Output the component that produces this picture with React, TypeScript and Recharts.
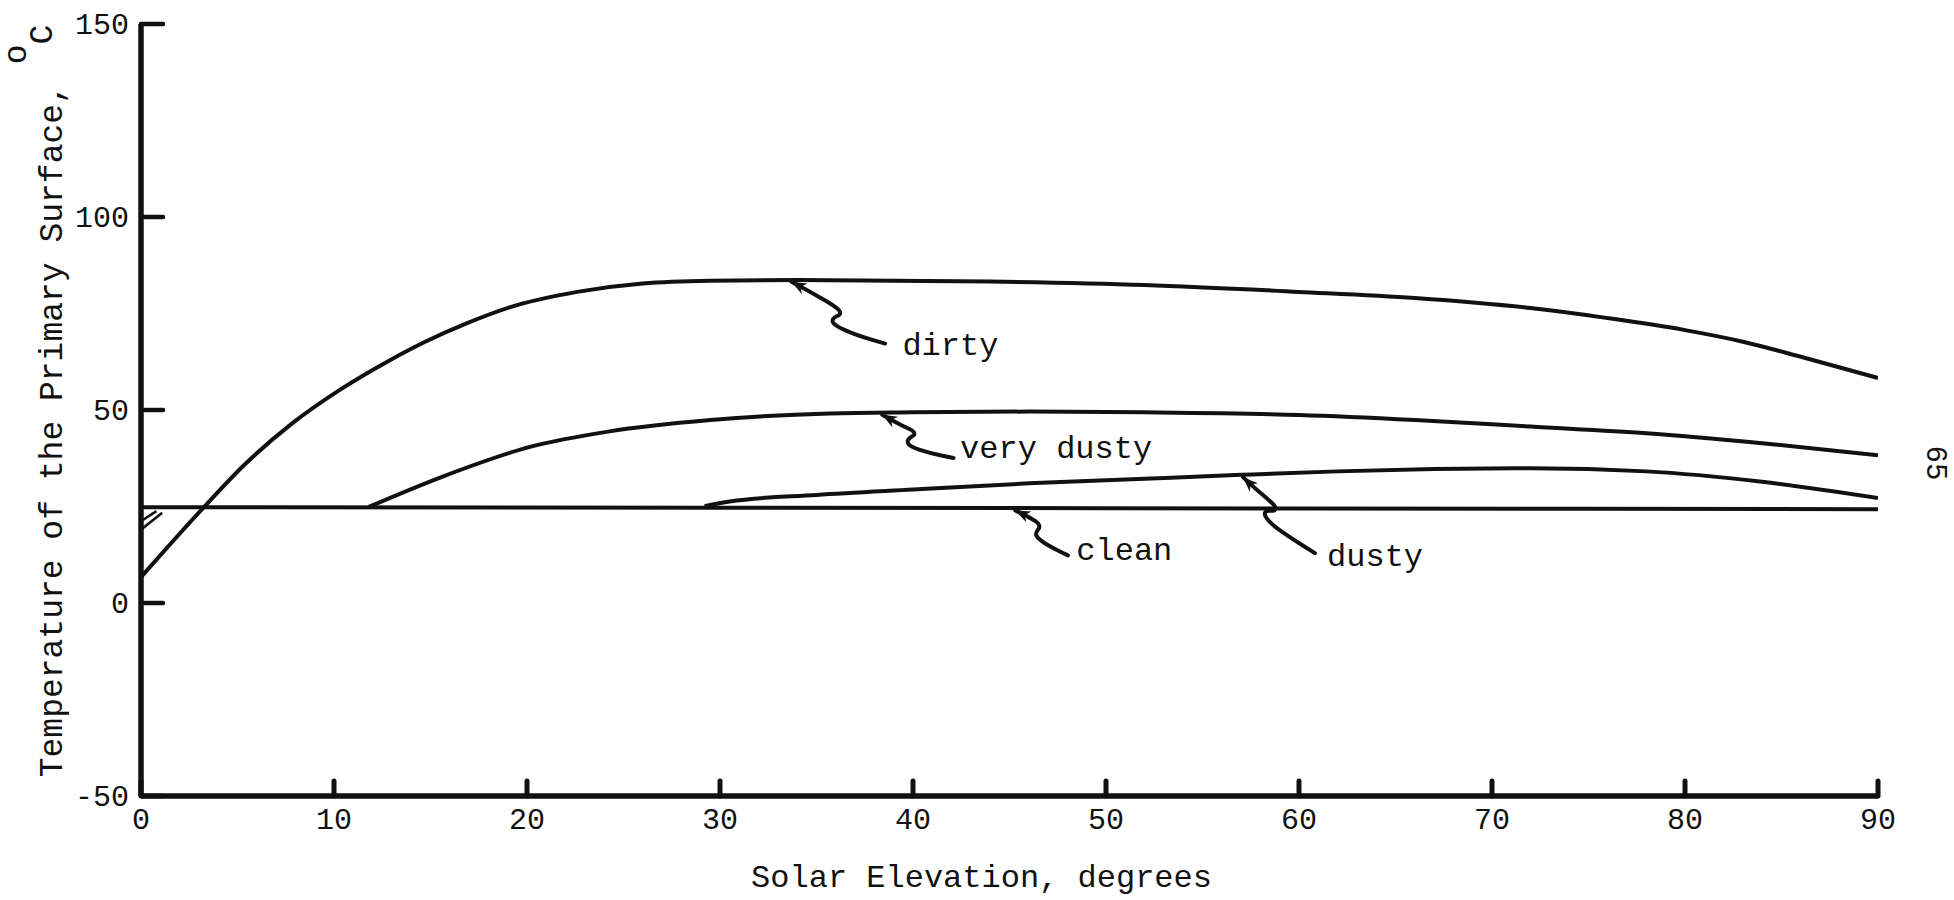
import { LineChart, Line, XAxis, YAxis, ReferenceDot } from "recharts"

const FONT = '"Courier New", "Liberation Mono", monospace'
const INK = "#111"

const xTicks = [0, 10, 20, 30, 40, 50, 60, 70, 80, 90]
const yTicks = [-50, 0, 50, 100, 150]

// Solar elevation (deg) -> temperature of the primary surface (deg C)
const cleanX = [0, 30, 60, 90]
const cleanY = [24.8, 24.7, 24.5, 24.3]

const dirtyX = [0, 3.2, 5.4, 7.8, 10.3, 12.9, 14.7, 16.8, 19.1, 22.6, 26, 29.5, 34, 44, 52, 60, 66, 72, 76, 80, 83, 86, 90]
const dirtyY = [6.7, 24.5, 36.0, 46.4, 55.2, 62.9, 67.6, 72.3, 76.6, 80.6, 82.8, 83.5, 83.7, 83.3, 82.4, 80.6, 79, 76.4, 73.8, 70.7, 67.7, 63.8, 58.3]

const veryDustyX = [11.8, 15.6, 20.2, 24.2, 29.5, 35.7, 40, 46, 52, 60, 66, 72, 78, 84, 90]
const veryDustyY = [24.9, 32.7, 40.5, 44.4, 47.4, 49.1, 49.4, 49.6, 49.4, 48.7, 47.4, 45.7, 44, 41.4, 38.3]

const dustyX = [29.2, 30.5, 35, 40, 46, 52, 57, 62, 67, 72, 78, 84, 90]
const dustyY = [25.1, 26.3, 28, 29.4, 31, 32.2, 33.2, 34.1, 34.7, 34.9, 34.1, 31.4, 27.2]

// little hatch strokes near the origin
const hatchAX = [0, 1.1]
const hatchAY = [19, 23.4]
const hatchBX = [0, 0.8]
const hatchBY = [21.2, 23.8]

const toPoints = (xs: number[], ys: number[]) => xs.map((x, i) => ({ x, y: ys[i] }))

const series = [
  { key: "clean", data: toPoints(cleanX, cleanY), width: 4, type: "monotone" },
  { key: "dirty", data: toPoints(dirtyX, dirtyY), width: 4, type: "monotone" },
  { key: "veryDusty", data: toPoints(veryDustyX, veryDustyY), width: 4, type: "monotone" },
  { key: "dusty", data: toPoints(dustyX, dustyY), width: 4, type: "monotone" },
  { key: "hatchA", data: toPoints(hatchAX, hatchAY), width: 2.5, type: "linear" },
  { key: "hatchB", data: toPoints(hatchBX, hatchBY), width: 2.5, type: "linear" },
]

// where each label's arrow touches its curve
const noteLabels = ["dirty", "very dusty", "clean", "dusty"]
const noteX = [33.7, 38.4, 45.3, 57.1]
const noteY = [83.2, 48.8, 24.0, 32.6]

// squiggle shapes in px, relative to the arrow tip (drawing style only)
const squiggles: Record<string, { path: number[][]; text: number[] }> = {
  dirty: { path: [[0, 0], [15.6, 8.3], [42.4, 23.3], [51.3, 31.7], [40.2, 36.7], [42.4, 43.3], [64.7, 53.3], [93.8, 61.7]], text: [111, 65] },
  "very dusty": { path: [[0, 0], [17.9, 10], [35.7, 18.3], [24.6, 25], [26.8, 31.7], [46.9, 38.3], [71.4, 43.3]], text: [78, 35] },
  clean: { path: [[0, 0], [14, 6.7], [26.3, 15], [19.3, 23.3], [24.6, 30], [38.6, 38.3], [52.6, 45]], text: [61, 41] },
  dusty: { path: [[0, 0], [10.5, 10], [24.6, 21.7], [33.3, 30], [31.6, 34], [22.8, 33.3], [21, 38.3], [29.8, 48.3], [49.1, 61.7], [71.9, 76]], text: [84, 80] },
}

function Note({ cx = 0, cy = 0, label }: { cx?: number; cy?: number; label: string }) {
  const s = squiggles[label]
  const pts = s.path.map(([dx, dy]) => [cx + dx, cy + dy])
  let d = `M${pts[0][0]},${pts[0][1]}`
  for (let i = 1; i < pts.length - 1; i++) {
    const mx = (pts[i][0] + pts[i + 1][0]) / 2
    const my = (pts[i][1] + pts[i + 1][1]) / 2
    d += ` Q${pts[i][0]},${pts[i][1]} ${mx},${my}`
  }
  const last = pts[pts.length - 1]
  d += ` L${last[0]},${last[1]}`
  const a = Math.atan2(pts[1][1] - cy, pts[1][0] - cx)
  const ux = Math.cos(a), uy = Math.sin(a)
  const L = 15, W = 6
  const bx = cx + ux * L, by = cy + uy * L
  const head = `${cx},${cy} ${bx - uy * W},${by + ux * W} ${cx + ux * L * 0.7},${cy + uy * L * 0.7} ${bx + uy * W},${by - ux * W}`
  return (
    <g>
      <path d={d} fill="none" stroke={INK} strokeWidth={4} strokeLinecap="round" strokeLinejoin="round" />
      <polygon points={head} fill={INK} />
      <text x={cx + s.text[0]} y={cy + s.text[1]} dominantBaseline="central" fontSize={32} fontFamily={FONT} fill={INK}>
        {label}
      </text>
    </g>
  )
}

function YTick({ x = 0, y = 0, payload }: any) {
  return (
    <g>
      <line x1={x} x2={x + 22} y1={y} y2={y} stroke={INK} strokeWidth={4.5} strokeLinecap="round" />
      <text x={x - 12} y={y} dy={10} textAnchor="end" fontSize={30} fontFamily={FONT} fill={INK}>
        {payload.value}
      </text>
    </g>
  )
}

function XTick({ x = 0, y = 0, payload }: any) {
  return (
    <g>
      <line x1={x} x2={x} y1={y} y2={y - 15} stroke={INK} strokeWidth={5} strokeLinecap="round" />
      <text x={x} y={y} dy={33} textAnchor="middle" fontSize={30} fontFamily={FONT} fill={INK}>
        {payload.value}
      </text>
    </g>
  )
}

function YTitle({ viewBox }: any) {
  const x = viewBox.x + 21
  const y = viewBox.y + viewBox.height / 2 - 9
  return (
    <text x={x} y={y} transform={`rotate(-90, ${x}, ${y})`} textAnchor="middle" fontSize={33} fontFamily={FONT} fill={INK}>
      {"Temperature of the Primary Surface, "}
      <tspan dy={-36}>o</tspan>
      <tspan dy={26}>C</tspan>
    </text>
  )
}

function XTitle({ viewBox }: any) {
  const x = viewBox.x + viewBox.width / 2 - 28
  return (
    <text x={x} y={887} textAnchor="middle" fontSize={32} fontFamily={FONT} fill={INK}>
      Solar Elevation, degrees
    </text>
  )
}

export default function App() {
  return (
    <div style={{ position: "absolute", left: 0, top: 0, width: 1954, height: 900, background: "#fff" }}>
      <LineChart width={1954} height={900} margin={{ top: 24, right: 76, bottom: 44, left: 41 }}>
        <XAxis
          type="number"
          dataKey="x"
          domain={[0, 90]}
          ticks={xTicks}
          height={60}
          tickSize={0}
          tickMargin={0}
          tickLine={false}
          tick={(p: any) => <XTick {...p} />}
          axisLine={{ stroke: INK, strokeWidth: 5.5 }}
          label={<XTitle />}
          allowDataOverflow
        />
        <YAxis
          type="number"
          dataKey="y"
          domain={[-50, 150]}
          ticks={yTicks}
          width={100}
          tickSize={0}
          tickMargin={0}
          tickLine={false}
          tick={(p: any) => <YTick {...p} />}
          axisLine={{ stroke: INK, strokeWidth: 5.5 }}
          label={<YTitle />}
          allowDataOverflow
        />
        {series.map((s) => (
          <Line
            key={s.key}
            data={s.data}
            dataKey="y"
            type={s.type as any}
            stroke={INK}
            strokeWidth={s.width}
            dot={false}
            activeDot={false}
            isAnimationActive={false}
          />
        ))}
        {noteLabels.map((label, i) => (
          <ReferenceDot
            key={label}
            x={noteX[i]}
            y={noteY[i]}
            r={1}
            shape={(p: any) => <Note cx={p.cx} cy={p.cy} label={label} />}
          />
        ))}
      </LineChart>
      <svg width={60} height={80} style={{ position: "absolute", left: 1904, top: 423 }}>
        <text x={30} y={40} transform="rotate(90, 30, 40)" textAnchor="middle" dominantBaseline="central" fontSize={29} fontFamily={FONT} fill={INK}>
          65
        </text>
      </svg>
    </div>
  )
}
